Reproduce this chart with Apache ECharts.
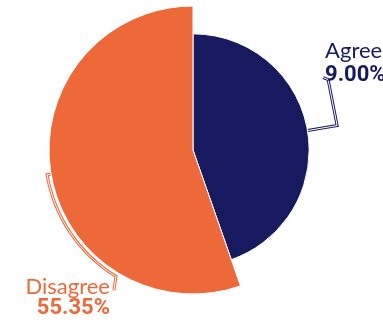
<!DOCTYPE html>
<html>
<head>
<meta charset="utf-8">
<script src="https://cdn.jsdelivr.net/npm/echarts@6/dist/echarts.min.js"></script>
<style>
  html, body { margin: 0; padding: 0; background: #ffffff; }
  #chart { width: 383px; height: 325px; }
</style>
</head>
<body>
<div id="chart"></div>
<script>
// Survey answers: slice sizes and the percentage text printed beside each slice
const categories = ['Agree', 'Disagree'];
const shares = [44.65, 55.35];
const pctLabels = ['9.00%', '55.35%'];
const colors = ['#171a5f', '#ee6939'];

const chart = echarts.init(document.getElementById('chart'), null, { renderer: 'canvas' });

// Sector geometry as laid out by the pie series
function sectorLayout(seriesIndex, idx) {
  return chart.getModel().getSeriesByIndex(seriesIndex).getData().getItemLayout(idx);
}

function placeLabel(params) {
  const lay = sectorLayout(params.seriesIndex, params.dataIndex);
  const mid = (lay.startAngle + lay.endAngle) / 2;
  const at = (rad, a) => [lay.cx + rad * Math.cos(a), lay.cy + rad * Math.sin(a)];
  const edge = at(lay.r, mid);
  if (params.dataIndex === 0) {
    // short radial leader, then up to the label
    const elbow = at(lay.r + 30, mid);
    const tip = [elbow[0] - 9, elbow[1] - 46];
    return {
      x: elbow[0] - 12,
      y: elbow[1] - 86,
      align: 'left',
      verticalAlign: 'top',
      labelLinePoints: [edge, elbow, tip, [tip[0] - 5, tip[1] - 2]]
    };
  }
  // leader that hugs the rim of the slice down to the label
  const pts = [edge];
  const sweep = 0.855;
  const steps = 16;
  for (let k = 0; k <= steps; k++) {
    pts.push(at(lay.r + 4, mid - sweep * k / steps));
  }
  const last = pts[pts.length - 1];
  pts.push([last[0] - 2, last[1] + 14]);
  return {
    x: last[0] - 6,
    y: last[1],
    align: 'right',
    verticalAlign: 'top',
    labelLinePoints: pts
  };
}

const pieData = (withStyle) => categories.map((name, i) => ({
  name: name,
  value: shares[i],
  itemStyle: { color: withStyle ? colors[i] : 'rgba(0,0,0,0)' },
  label: { color: colors[i] },
  labelLine: { lineStyle: { color: withStyle ? colors[i] : '#ffffff' } }
}));

const common = {
  type: 'pie',
  roseType: 'radius',
  center: [193, 150],
  radius: [0, 144],
  startAngle: 90,
  clockwise: true,
  avoidLabelOverlap: false,
  labelLayout: placeLabel
};

const option = {
  animation: false,
  backgroundColor: '#ffffff',
  series: [
    Object.assign({}, common, {
      itemStyle: { borderColor: '#ffffff', borderWidth: 1 },
      data: pieData(true),
      label: {
        show: true,
        position: 'outside',
        width: 160,
        overflow: 'none',
        formatter: p => '{n|' + p.name + '}\n{v' + p.dataIndex + '|' + pctLabels[p.dataIndex] + '}',
        rich: {
          n: { fontFamily: 'Lato', fontSize: 22, lineHeight: 22 },
          v0: { fontFamily: 'Roboto', fontWeight: 'bold', fontSize: 22, lineHeight: 27 },
          v1: { fontFamily: 'Roboto', fontWeight: 'bold', fontSize: 22, lineHeight: 20 }
        }
      },
      labelLine: { show: true, smooth: false, lineStyle: { width: 3 } }
    }),
    // hollow centre stroke for the leader lines
    Object.assign({}, common, {
      silent: true,
      itemStyle: { borderWidth: 0 },
      data: pieData(false),
      label: { show: true, position: 'outside', formatter: ' ', width: 160, overflow: 'none' },
      labelLine: { show: true, smooth: false, lineStyle: { width: 1 } }
    })
  ]
};

chart.setOption(option);
</script>
</body>
</html>
